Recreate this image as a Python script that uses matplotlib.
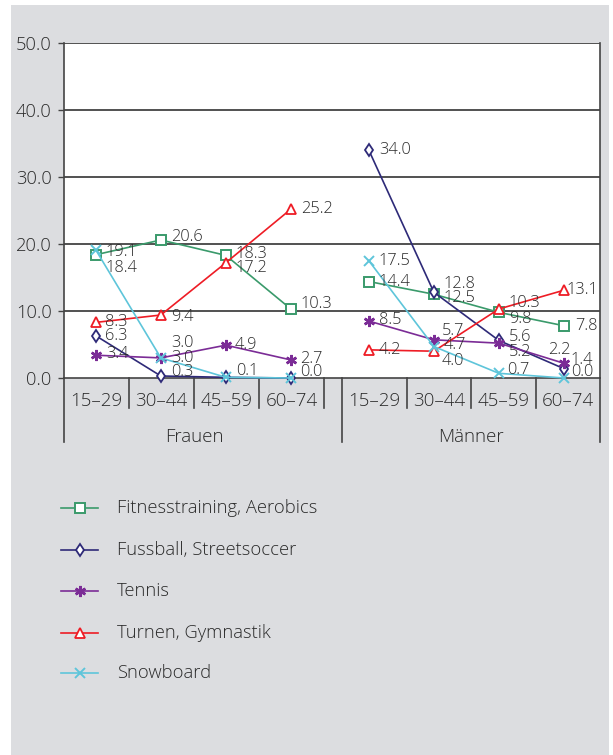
import numpy as np
import matplotlib
matplotlib.use('Agg')
import matplotlib.pyplot as plt
from matplotlib.patches import Rectangle
from matplotlib.lines import Line2D

plt.rcParams['font.family'] = ['Open Sans', 'DejaVu Sans']
plt.rcParams['font.weight'] = 'light'

# ---------------- data ----------------
age_groups = ['15–29', '30–44', '45–59', '60–74']
sexes = ['Frauen', 'Männer']
y_ticks = [0, 10, 20, 30, 40, 50]
y_tick_labels = ['0.0', '10.0', '20.0', '30.0', '40.0', '50.0']

series_names = ['Fitnesstraining, Aerobics', 'Fussball, Streetsoccer', 'Tennis',
                'Turnen, Gymnastik', 'Snowboard']

fitness_frauen = [18.4, 20.6, 18.3, 10.3]
fitness_maenner = [14.4, 12.5, 9.8, 7.8]
fussball_frauen = [6.3, 0.3, 0.1, 0.0]
fussball_maenner = [34.0, 12.8, 5.6, 1.4]
tennis_frauen = [3.4, 3.0, 4.9, 2.7]
tennis_maenner = [8.5, 5.7, 5.2, 2.2]
turnen_frauen = [8.3, 9.4, 17.2, 25.2]
turnen_maenner = [4.2, 4.0, 10.3, 13.1]
snowboard_frauen = [19.1, 3.0, 0.1, 0.0]
snowboard_maenner = [17.5, 4.7, 0.7, 0.0]

frauen_values = [fitness_frauen, fussball_frauen, tennis_frauen, turnen_frauen, snowboard_frauen]
maenner_values = [fitness_maenner, fussball_maenner, tennis_maenner, turnen_maenner, snowboard_maenner]

# ---------------- styles ----------------
colors = ['#3a9a6b', '#2e2a78', '#7b2c96', '#ee1c25', '#5ec5da']
markers = ['s', 'd', (6, 2, 0), '^', 'x']
msizes = [6.5, 6.0, 8, 6.5, 6.5]
mews = [1.4, 1.3, 1.8, 1.3, 1.4]
mfaces = ['white', 'white', None, 'white', None]
txt_color = '#2a2a2a'

# label offsets (pixels) per series: Frauen then Männer
label_offsets = [
    [(10, -13), (10, 3), (10, 1), (10, 5), (10, 0), (10, -4), (10, -7), (11, 0)],
    [(9, 0), (10, 4), (10, 6), (9, 6), (10, 0), (10, 8), (10, 3), (7, 8.5)],
    [(10, 1), (10, 0), (9, 0), (9, 1), (10, 1), (8, 9), (10, -8.5), (-16, 13)],
    [(9, 0), (10, -2), (10, -5.5), (10, 0), (10, 0), (8, -9.5), (10, 6), (3, 0)],
    [(10, -2), (10, 15), (10, 6), (9, 6), (10, 0), (10, 1.5), (8, 3), (7, 6)],
]

W, H = 613, 755
fig = plt.figure(figsize=(W / 100, H / 100), dpi=100, facecolor='white')

# background overlay axes in pixel coordinates
bg = fig.add_axes([0, 0, 1, 1])
bg.set_xlim(0, W)
bg.set_ylim(H, 0)
bg.axis('off')
bg.set_zorder(0)
bg.add_patch(Rectangle((11, 5), 598, 750, facecolor='#dcdde0', edgecolor='none'))

left_px, right_px, top_px, bot_px = 64, 600, 43, 378
ax = fig.add_axes([left_px / W, 1 - bot_px / H, (right_px - left_px) / W, (bot_px - top_px) / H])
ax.set_zorder(1)
ax.set_facecolor('white')

x_frauen = np.arange(4) + 0.49
x_maenner = np.arange(4) + 4.69
x_right = 8.246
ax.set_xlim(0, x_right)
ax.set_ylim(0, 50)

# grid
for yv in y_ticks[1:]:
    ax.axhline(yv, color='#222222', lw=1.1, zorder=1)

ax.spines['top'].set_visible(False)
for sp in ['left', 'right', 'bottom']:
    ax.spines[sp].set_color('#444444')
    ax.spines[sp].set_linewidth(1.2)

ax.set_yticks(y_ticks)
ax.set_yticklabels(y_tick_labels)
ax.tick_params(axis='y', length=4, width=1.0, color='#444444', pad=5,
               labelsize=13.2, labelcolor=txt_color)
ax.set_xticks([])

# series
placed = set()
for i in range(len(series_names)):
    for xs, vals, k0 in [(x_frauen, frauen_values[i], 0), (x_maenner, maenner_values[i], 4)]:
        ax.plot(xs, vals, color=colors[i], lw=1.2, marker=markers[i], ms=msizes[i],
                mew=mews[i], mfc=mfaces[i] if mfaces[i] else colors[i],
                mec=colors[i], zorder=3 + i, clip_on=False)
        for j, (xv, yv) in enumerate(zip(xs, vals)):
            dx, dy = label_offsets[i][k0 + j]
            key = (round(xv, 2), f'{yv:.1f}', dx, dy)
            if key in placed:
                continue
            placed.add(key)
            ax.annotate(f'{yv:.1f}', (xv, yv), xytext=(dx, dy), textcoords='offset pixels',
                        ha='left', va='center', fontsize=11.8, color=txt_color, zorder=10)

# category axis below
px_per_unit = (bot_px - top_px) / 50.0
def ypx(p):
    return (bot_px - p) / px_per_unit

short_end = ypx(408)
long_end = ypx(442)
lc = '#444444'
seps_frauen = [1, 2, 3, 4]
seps_m_all = list(np.linspace(4.277, x_right, 5))
seps_maenner = seps_m_all[1:-1]
for xs in seps_frauen + seps_maenner:
    ax.plot([xs, xs], [0, short_end], color=lc, lw=1.2, clip_on=False)
for xs in [0, 4.277, x_right]:
    ax.plot([xs, xs], [0, long_end], color=lc, lw=1.2, clip_on=False)

for j, lab in enumerate(age_groups):
    ax.text(j + 0.5, ypx(401), lab, ha='center', va='center', fontsize=13.5,
            color=txt_color, clip_on=False)
    ax.text((seps_m_all[j] + seps_m_all[j + 1]) / 2, ypx(401), lab, ha='center', va='center',
            fontsize=13.5, color=txt_color, clip_on=False)
ax.text(2.0, ypx(437), sexes[0], ha='center', va='center', fontsize=13.5, color=txt_color)
ax.text((4.277 + x_right) / 2, ypx(437), sexes[1], ha='center', va='center', fontsize=13.5,
        color=txt_color)

# legend (manual)
leg_y = [508, 550, 591, 633, 673]
for i, name in enumerate(series_names):
    bg.add_line(Line2D([61, 98], [leg_y[i], leg_y[i]], color=colors[i], lw=1.2))
    bg.add_line(Line2D([79.5], [leg_y[i]], color=colors[i], marker=markers[i], ms=msizes[i],
                       mew=mews[i], mfc=mfaces[i] if mfaces[i] else colors[i], mec=colors[i]))
    bg.text(117, leg_y[i], name, ha='left', va='center', fontsize=13.2, color=txt_color)

fig.savefig('out.png', dpi=100, facecolor='white')
